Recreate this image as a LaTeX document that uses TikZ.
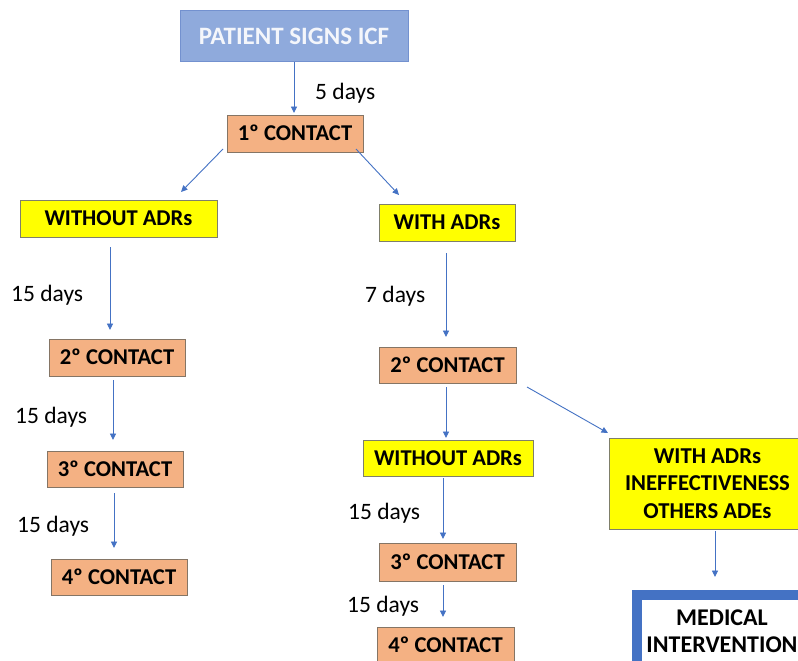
\documentclass[tikz,border=0pt]{standalone}
\usepackage{fontspec}
\setmainfont{Carlito}
\usetikzlibrary{arrows.meta,calc}
\definecolor{arrowblue}{HTML}{4472C4}
\definecolor{topfill}{HTML}{8FAADC}
\definecolor{topdraw}{HTML}{7391CF}
\definecolor{orfill}{HTML}{F4B183}
\definecolor{ordraw}{HTML}{857565}
\definecolor{yefill}{HTML}{FFFF00}
\definecolor{yedraw}{HTML}{7F7F6A}
\definecolor{toptext}{HTML}{F4F6FB}
\begin{document}
\begin{tikzpicture}[x=1pt,y=-1pt,
  basebox/.style={rectangle, inner sep=0pt, outer sep=0pt, line width=1pt,
    font=\fontsize{22.6}{27.5}\selectfont\bfseries, text height=14.5pt, text depth=0pt, align=center},
  topbox/.style={basebox, fill=topfill, draw=topdraw, text=toptext,
    font=\fontsize{25}{28}\selectfont\bfseries, text height=16.1pt},
  contact/.style={basebox, fill=orfill, draw=ordraw},
  adr/.style={basebox, fill=yefill, draw=yedraw},
  medbox/.style={basebox, fill=white, draw=arrowblue, line width=10pt},
  arr/.style={draw=arrowblue, line width=0.9pt, -{Triangle[length=6.5pt,width=6pt]}},
  days/.style={anchor=west, inner sep=0pt, font=\fontsize{23.5}{26}\selectfont,
    text height=15.5pt, text depth=0pt}]
\useasboundingbox (0,0) rectangle (798,661);
\clip (0,0) rectangle (798,661);
\fill[white] (0,0) rectangle (798,661);

% boxes
\node[topbox, minimum width=228pt, minimum height=51pt] (P) at (294,36.5) {PATIENT SIGNS ICF};
\node[contact, minimum width=136pt, minimum height=37pt] (C1) at (295,133.5) {1º CONTACT};
\node[adr, minimum width=197pt, minimum height=37pt] (WO1) at (118.5,218.5) {WITHOUT ADRs};
\node[adr, minimum width=136pt, minimum height=37pt] (W1) at (447,222.5) {WITH ADRs};
\node[contact, minimum width=136pt, minimum height=37pt] (L2) at (117,357.5) {2º CONTACT};
\node[contact, minimum width=136pt, minimum height=36pt] (L3) at (115,469) {3º CONTACT};
\node[contact, minimum width=136pt, minimum height=36pt] (L4) at (119,577) {4º CONTACT};
\node[contact, minimum width=137pt, minimum height=36pt] (R2) at (447.5,365) {2º CONTACT};
\node[adr, minimum width=170pt, minimum height=36pt] (WO2) at (448,458) {WITHOUT ADRs};
\node[contact, minimum width=137pt, minimum height=38pt] (R3) at (447.5,562) {3º CONTACT};
\node[contact, minimum width=137pt, minimum height=37pt] (R4) at (445.5,645.5) {4º CONTACT};
\node[adr, minimum width=197pt, minimum height=91pt, text height=, text depth=,
  font=\fontsize{22.7}{27.5}\selectfont\bfseries] (INEF) at (707.5,483.5) {WITH ADRs\\INEFFECTIVENESS\\OTHERS ADEs};
\node[medbox, minimum width=170pt, minimum height=73pt, text height=, text depth=,
  font=\fontsize{24}{27}\selectfont\bfseries] (MED) at (722,631.5) {MEDICAL\\INTERVENTION};

% day labels
\node[days] (d0) at (315,92) {5 days};
\node[days] (d1) at (11,294) {15 days};
\node[days] (d2) at (15,416) {15 days};
\node[days] (d3) at (17,525) {15 days};
\node[days] (d4) at (365,295) {7 days};
\node[days] (d5) at (348,512) {15 days};
\node[days] (d6) at (347,605) {15 days};

% connectors
\draw[arr, shorten >=2pt] (P.south) -- (P.south |- C1.north);
\draw[arr] ($(C1.south west)+(-4,-3)$) -- ($(WO1.north east)+(-36,-8)$);
\draw[arr] ($(C1.south east)+(-7,-3)$) -- ($(W1.north west)+(20,-9)$);
\draw[arr, shorten <=10pt, shorten >=9pt] ([xshift=-8.5pt]WO1.south) -- ([xshift=-7pt]L2.north);
\draw[arr, shorten <=4pt, shorten >=11pt] ([xshift=-4pt]L2.south) -- ([xshift=-2pt]L3.north);
\draw[arr, shorten <=6pt, shorten >=11pt] ([xshift=-1pt]L3.south) -- ([xshift=-5pt]L4.north);
\draw[arr, shorten <=12pt, shorten >=10pt] ([xshift=-1pt]W1.south) -- ([xshift=-1.5pt]R2.north);
\draw[arr, shorten <=4pt, shorten >=2pt] ([xshift=-1.5pt]R2.south) -- ([xshift=-2pt]WO2.north);
\draw[arr] ($(R2.south east)+(11,4)$) -- ($(INEF.north west)+(-1,-5)$);
\draw[arr, shorten <=2pt, shorten >=4pt] ([xshift=-5pt]WO2.south) -- ([xshift=-4.5pt]R3.north);
\draw[arr, shorten <=4pt, shorten >=10pt] ([xshift=-4.5pt]R3.south) -- ([xshift=-2.5pt]R4.north);
\draw[arr, shorten <=2pt, shorten >=18pt] ([xshift=7.5pt]INEF.south) -- ([xshift=-7pt]MED.north);
\end{tikzpicture}
\end{document}
